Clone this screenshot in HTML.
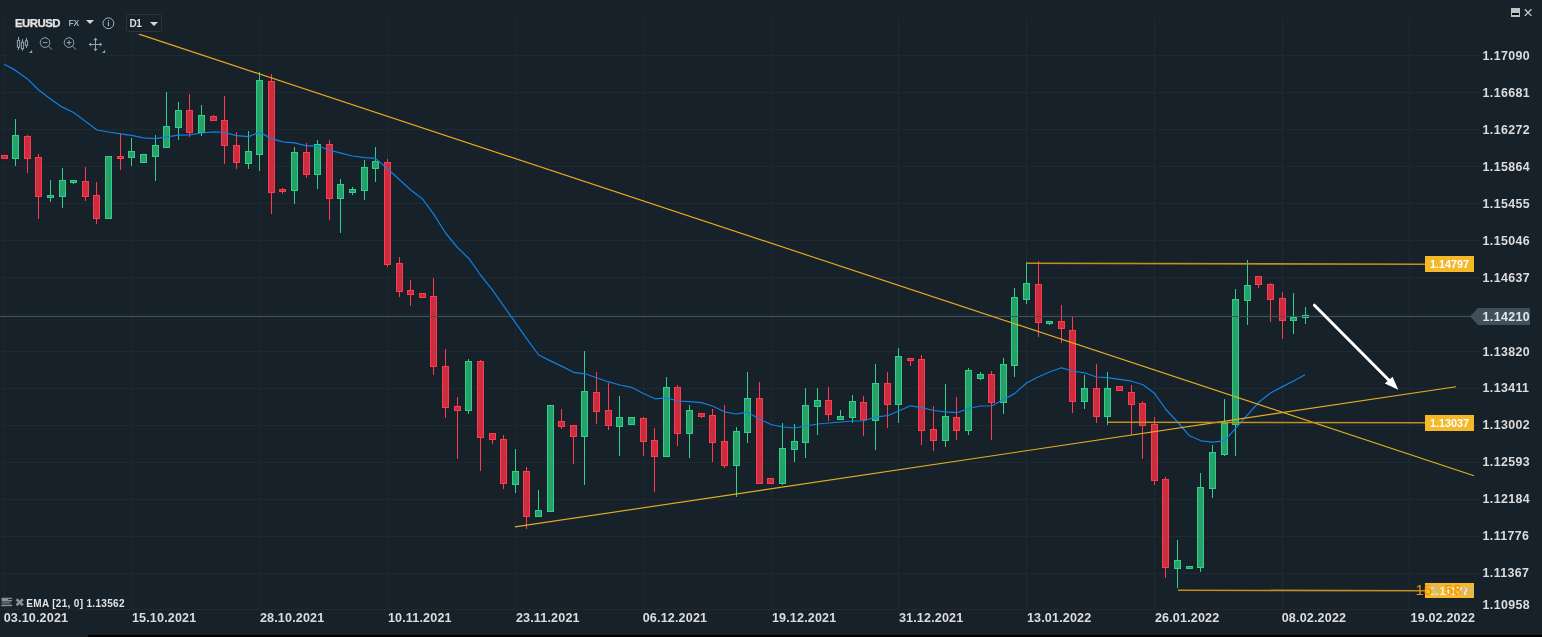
<!DOCTYPE html>
<html lang="en"><head><meta charset="utf-8"><title>EURUSD D1</title>
<style>
html,body{margin:0;padding:0;background:#172129;}
body{width:1542px;height:637px;overflow:hidden;position:relative;font-family:"Liberation Sans",sans-serif;}
#wrap{position:absolute;left:0;top:0;width:1542px;height:637px;background:#172129;overflow:hidden;}
#chart{position:absolute;left:0;top:0;}
.t{position:absolute;white-space:nowrap;line-height:1;}
.yl{left:1482.5px;font-size:12.4px;font-weight:bold;color:#dcdcdc;letter-spacing:.4px;}
.dl{top:612px;font-size:12.6px;font-weight:bold;color:#dcdcdc;letter-spacing:.15px;}
.pl{left:1425px;width:49px;text-align:center;font-size:10.8px;font-weight:bold;color:#fff;}
#toolbar{position:absolute;left:8px;top:10px;width:158px;height:24px;background:rgba(23,33,41,0.9);}
#toolbar2{position:absolute;left:8px;top:33px;width:98px;height:23px;background:rgba(23,33,41,0.9);}
</style></head><body><div id="wrap">

<svg id="chart" width="1542" height="637" viewBox="0 0 1542 637">
<g shape-rendering="crispEdges" fill="#20292f">
<rect x="4" y="19" width="1" height="591"/>
<rect x="131" y="19" width="1" height="591"/>
<rect x="259" y="19" width="1" height="591"/>
<rect x="387" y="19" width="1" height="591"/>
<rect x="515" y="19" width="1" height="591"/>
<rect x="643" y="19" width="1" height="591"/>
<rect x="771" y="19" width="1" height="591"/>
<rect x="898" y="19" width="1" height="591"/>
<rect x="1026" y="19" width="1" height="591"/>
<rect x="1154" y="19" width="1" height="591"/>
<rect x="1282" y="19" width="1" height="591"/>
<rect x="1409" y="19" width="1" height="591"/>
<rect x="0" y="55" width="1480" height="1"/>
<rect x="0" y="92" width="1480" height="1"/>
<rect x="0" y="129" width="1480" height="1"/>
<rect x="0" y="166" width="1480" height="1"/>
<rect x="0" y="203" width="1480" height="1"/>
<rect x="0" y="240" width="1480" height="1"/>
<rect x="0" y="277" width="1480" height="1"/>
<rect x="0" y="314" width="1480" height="1"/>
<rect x="0" y="351" width="1480" height="1"/>
<rect x="0" y="388" width="1480" height="1"/>
<rect x="0" y="425" width="1480" height="1"/>
<rect x="0" y="462" width="1480" height="1"/>
<rect x="0" y="499" width="1480" height="1"/>
<rect x="0" y="536" width="1480" height="1"/>
<rect x="0" y="573" width="1480" height="1"/>
<rect x="0" y="609" width="1474" height="1"/>
</g>
<g shape-rendering="crispEdges">
<rect x="4" y="155" width="1" height="4" fill="#ff3b4d"/>
<rect x="1" y="155" width="7" height="4" fill="#ff3b4d"/>
<rect x="2" y="156" width="5" height="2" fill="#cb2d3e"/>
<rect x="15" y="119" width="1" height="47" fill="#2ecf8a"/>
<rect x="12" y="135" width="7" height="24" fill="#2ecf8a"/>
<rect x="13" y="136" width="5" height="22" fill="#26a269"/>
<rect x="27" y="135" width="1" height="38" fill="#ff3b4d"/>
<rect x="24" y="136" width="7" height="23" fill="#ff3b4d"/>
<rect x="25" y="137" width="5" height="21" fill="#cb2d3e"/>
<rect x="38" y="154" width="1" height="65" fill="#ff3b4d"/>
<rect x="35" y="157" width="7" height="40" fill="#ff3b4d"/>
<rect x="36" y="158" width="5" height="38" fill="#cb2d3e"/>
<rect x="50" y="180" width="1" height="22" fill="#2ecf8a"/>
<rect x="47" y="195" width="7" height="3" fill="#2ecf8a"/>
<rect x="48" y="196" width="5" height="1" fill="#26a269"/>
<rect x="62" y="168" width="1" height="40" fill="#2ecf8a"/>
<rect x="59" y="180" width="7" height="17" fill="#2ecf8a"/>
<rect x="60" y="181" width="5" height="15" fill="#26a269"/>
<rect x="73" y="180" width="1" height="4" fill="#2ecf8a"/>
<rect x="70" y="180" width="7" height="3" fill="#2ecf8a"/>
<rect x="71" y="181" width="5" height="1" fill="#26a269"/>
<rect x="85" y="167" width="1" height="34" fill="#ff3b4d"/>
<rect x="82" y="181" width="7" height="16" fill="#ff3b4d"/>
<rect x="83" y="182" width="5" height="14" fill="#cb2d3e"/>
<rect x="96" y="182" width="1" height="42" fill="#ff3b4d"/>
<rect x="93" y="195" width="7" height="24" fill="#ff3b4d"/>
<rect x="94" y="196" width="5" height="22" fill="#cb2d3e"/>
<rect x="108" y="156" width="1" height="63" fill="#2ecf8a"/>
<rect x="105" y="156" width="7" height="63" fill="#2ecf8a"/>
<rect x="106" y="157" width="5" height="61" fill="#26a269"/>
<rect x="120" y="133" width="1" height="37" fill="#ff3b4d"/>
<rect x="117" y="156" width="7" height="3" fill="#ff3b4d"/>
<rect x="118" y="157" width="5" height="1" fill="#cb2d3e"/>
<rect x="131" y="138" width="1" height="28" fill="#2ecf8a"/>
<rect x="128" y="151" width="7" height="7" fill="#2ecf8a"/>
<rect x="129" y="152" width="5" height="5" fill="#26a269"/>
<rect x="143" y="154" width="1" height="9" fill="#2ecf8a"/>
<rect x="140" y="154" width="7" height="9" fill="#2ecf8a"/>
<rect x="141" y="155" width="5" height="7" fill="#26a269"/>
<rect x="155" y="135" width="1" height="46" fill="#2ecf8a"/>
<rect x="152" y="145" width="7" height="12" fill="#2ecf8a"/>
<rect x="153" y="146" width="5" height="10" fill="#26a269"/>
<rect x="166" y="92" width="1" height="56" fill="#2ecf8a"/>
<rect x="163" y="126" width="7" height="22" fill="#2ecf8a"/>
<rect x="164" y="127" width="5" height="20" fill="#26a269"/>
<rect x="178" y="102" width="1" height="38" fill="#2ecf8a"/>
<rect x="175" y="110" width="7" height="18" fill="#2ecf8a"/>
<rect x="176" y="111" width="5" height="16" fill="#26a269"/>
<rect x="189" y="94" width="1" height="43" fill="#ff3b4d"/>
<rect x="186" y="110" width="7" height="23" fill="#ff3b4d"/>
<rect x="187" y="111" width="5" height="21" fill="#cb2d3e"/>
<rect x="201" y="105" width="1" height="31" fill="#2ecf8a"/>
<rect x="198" y="115" width="7" height="18" fill="#2ecf8a"/>
<rect x="199" y="116" width="5" height="16" fill="#26a269"/>
<rect x="213" y="115" width="1" height="6" fill="#ff3b4d"/>
<rect x="210" y="116" width="7" height="5" fill="#ff3b4d"/>
<rect x="211" y="117" width="5" height="3" fill="#cb2d3e"/>
<rect x="224" y="96" width="1" height="68" fill="#ff3b4d"/>
<rect x="221" y="120" width="7" height="26" fill="#ff3b4d"/>
<rect x="222" y="121" width="5" height="24" fill="#cb2d3e"/>
<rect x="236" y="132" width="1" height="37" fill="#ff3b4d"/>
<rect x="233" y="145" width="7" height="18" fill="#ff3b4d"/>
<rect x="234" y="146" width="5" height="16" fill="#cb2d3e"/>
<rect x="248" y="131" width="1" height="38" fill="#2ecf8a"/>
<rect x="245" y="151" width="7" height="13" fill="#2ecf8a"/>
<rect x="246" y="152" width="5" height="11" fill="#26a269"/>
<rect x="259" y="72" width="1" height="99" fill="#2ecf8a"/>
<rect x="256" y="80" width="7" height="75" fill="#2ecf8a"/>
<rect x="257" y="81" width="5" height="73" fill="#26a269"/>
<rect x="271" y="74" width="1" height="140" fill="#ff3b4d"/>
<rect x="268" y="81" width="7" height="112" fill="#ff3b4d"/>
<rect x="269" y="82" width="5" height="110" fill="#cb2d3e"/>
<rect x="282" y="188" width="1" height="6" fill="#ff3b4d"/>
<rect x="279" y="189" width="7" height="3" fill="#ff3b4d"/>
<rect x="280" y="190" width="5" height="1" fill="#cb2d3e"/>
<rect x="294" y="147" width="1" height="57" fill="#2ecf8a"/>
<rect x="291" y="152" width="7" height="39" fill="#2ecf8a"/>
<rect x="292" y="153" width="5" height="37" fill="#26a269"/>
<rect x="306" y="143" width="1" height="35" fill="#ff3b4d"/>
<rect x="303" y="152" width="7" height="23" fill="#ff3b4d"/>
<rect x="304" y="153" width="5" height="21" fill="#cb2d3e"/>
<rect x="317" y="140" width="1" height="49" fill="#2ecf8a"/>
<rect x="314" y="144" width="7" height="31" fill="#2ecf8a"/>
<rect x="315" y="145" width="5" height="29" fill="#26a269"/>
<rect x="329" y="140" width="1" height="80" fill="#ff3b4d"/>
<rect x="326" y="144" width="7" height="55" fill="#ff3b4d"/>
<rect x="327" y="145" width="5" height="53" fill="#cb2d3e"/>
<rect x="340" y="179" width="1" height="54" fill="#2ecf8a"/>
<rect x="337" y="184" width="7" height="15" fill="#2ecf8a"/>
<rect x="338" y="185" width="5" height="13" fill="#26a269"/>
<rect x="352" y="187" width="1" height="8" fill="#2ecf8a"/>
<rect x="349" y="189" width="7" height="4" fill="#2ecf8a"/>
<rect x="350" y="190" width="5" height="2" fill="#26a269"/>
<rect x="364" y="160" width="1" height="40" fill="#2ecf8a"/>
<rect x="361" y="167" width="7" height="24" fill="#2ecf8a"/>
<rect x="362" y="168" width="5" height="22" fill="#26a269"/>
<rect x="375" y="147" width="1" height="35" fill="#2ecf8a"/>
<rect x="372" y="161" width="7" height="8" fill="#2ecf8a"/>
<rect x="373" y="162" width="5" height="6" fill="#26a269"/>
<rect x="387" y="159" width="1" height="108" fill="#ff3b4d"/>
<rect x="384" y="162" width="7" height="103" fill="#ff3b4d"/>
<rect x="385" y="163" width="5" height="101" fill="#cb2d3e"/>
<rect x="399" y="257" width="1" height="40" fill="#ff3b4d"/>
<rect x="396" y="263" width="7" height="29" fill="#ff3b4d"/>
<rect x="397" y="264" width="5" height="27" fill="#cb2d3e"/>
<rect x="410" y="280" width="1" height="26" fill="#ff3b4d"/>
<rect x="407" y="290" width="7" height="5" fill="#ff3b4d"/>
<rect x="408" y="291" width="5" height="3" fill="#cb2d3e"/>
<rect x="422" y="293" width="1" height="5" fill="#ff3b4d"/>
<rect x="419" y="293" width="7" height="5" fill="#ff3b4d"/>
<rect x="420" y="294" width="5" height="3" fill="#cb2d3e"/>
<rect x="433" y="278" width="1" height="97" fill="#ff3b4d"/>
<rect x="430" y="296" width="7" height="71" fill="#ff3b4d"/>
<rect x="431" y="297" width="5" height="69" fill="#cb2d3e"/>
<rect x="445" y="349" width="1" height="69" fill="#ff3b4d"/>
<rect x="442" y="366" width="7" height="42" fill="#ff3b4d"/>
<rect x="443" y="367" width="5" height="40" fill="#cb2d3e"/>
<rect x="457" y="397" width="1" height="62" fill="#ff3b4d"/>
<rect x="454" y="406" width="7" height="5" fill="#ff3b4d"/>
<rect x="455" y="407" width="5" height="3" fill="#cb2d3e"/>
<rect x="468" y="359" width="1" height="55" fill="#2ecf8a"/>
<rect x="465" y="361" width="7" height="50" fill="#2ecf8a"/>
<rect x="466" y="362" width="5" height="48" fill="#26a269"/>
<rect x="480" y="360" width="1" height="111" fill="#ff3b4d"/>
<rect x="477" y="361" width="7" height="77" fill="#ff3b4d"/>
<rect x="478" y="362" width="5" height="75" fill="#cb2d3e"/>
<rect x="492" y="433" width="1" height="11" fill="#ff3b4d"/>
<rect x="489" y="433" width="7" height="7" fill="#ff3b4d"/>
<rect x="490" y="434" width="5" height="5" fill="#cb2d3e"/>
<rect x="503" y="435" width="1" height="54" fill="#ff3b4d"/>
<rect x="500" y="439" width="7" height="45" fill="#ff3b4d"/>
<rect x="501" y="440" width="5" height="43" fill="#cb2d3e"/>
<rect x="515" y="449" width="1" height="44" fill="#2ecf8a"/>
<rect x="512" y="471" width="7" height="14" fill="#2ecf8a"/>
<rect x="513" y="472" width="5" height="12" fill="#26a269"/>
<rect x="526" y="467" width="1" height="62" fill="#ff3b4d"/>
<rect x="523" y="471" width="7" height="46" fill="#ff3b4d"/>
<rect x="524" y="472" width="5" height="44" fill="#cb2d3e"/>
<rect x="538" y="490" width="1" height="27" fill="#2ecf8a"/>
<rect x="535" y="510" width="7" height="7" fill="#2ecf8a"/>
<rect x="536" y="511" width="5" height="5" fill="#26a269"/>
<rect x="550" y="405" width="1" height="107" fill="#2ecf8a"/>
<rect x="547" y="405" width="7" height="107" fill="#2ecf8a"/>
<rect x="548" y="406" width="5" height="105" fill="#26a269"/>
<rect x="561" y="409" width="1" height="20" fill="#ff3b4d"/>
<rect x="558" y="421" width="7" height="6" fill="#ff3b4d"/>
<rect x="559" y="422" width="5" height="4" fill="#cb2d3e"/>
<rect x="573" y="425" width="1" height="39" fill="#ff3b4d"/>
<rect x="570" y="425" width="7" height="12" fill="#ff3b4d"/>
<rect x="571" y="426" width="5" height="10" fill="#cb2d3e"/>
<rect x="584" y="351" width="1" height="134" fill="#2ecf8a"/>
<rect x="581" y="391" width="7" height="46" fill="#2ecf8a"/>
<rect x="582" y="392" width="5" height="44" fill="#26a269"/>
<rect x="596" y="372" width="1" height="52" fill="#ff3b4d"/>
<rect x="593" y="392" width="7" height="20" fill="#ff3b4d"/>
<rect x="594" y="393" width="5" height="18" fill="#cb2d3e"/>
<rect x="608" y="383" width="1" height="47" fill="#ff3b4d"/>
<rect x="605" y="410" width="7" height="16" fill="#ff3b4d"/>
<rect x="606" y="411" width="5" height="14" fill="#cb2d3e"/>
<rect x="619" y="396" width="1" height="60" fill="#2ecf8a"/>
<rect x="616" y="417" width="7" height="10" fill="#2ecf8a"/>
<rect x="617" y="418" width="5" height="8" fill="#26a269"/>
<rect x="631" y="417" width="1" height="8" fill="#2ecf8a"/>
<rect x="628" y="417" width="7" height="8" fill="#2ecf8a"/>
<rect x="629" y="418" width="5" height="6" fill="#26a269"/>
<rect x="643" y="417" width="1" height="39" fill="#ff3b4d"/>
<rect x="640" y="418" width="7" height="24" fill="#ff3b4d"/>
<rect x="641" y="419" width="5" height="22" fill="#cb2d3e"/>
<rect x="654" y="428" width="1" height="64" fill="#ff3b4d"/>
<rect x="651" y="440" width="7" height="17" fill="#ff3b4d"/>
<rect x="652" y="441" width="5" height="15" fill="#cb2d3e"/>
<rect x="666" y="377" width="1" height="80" fill="#2ecf8a"/>
<rect x="663" y="387" width="7" height="70" fill="#2ecf8a"/>
<rect x="664" y="388" width="5" height="68" fill="#26a269"/>
<rect x="677" y="385" width="1" height="61" fill="#ff3b4d"/>
<rect x="674" y="387" width="7" height="47" fill="#ff3b4d"/>
<rect x="675" y="388" width="5" height="45" fill="#cb2d3e"/>
<rect x="689" y="405" width="1" height="53" fill="#2ecf8a"/>
<rect x="686" y="410" width="7" height="24" fill="#2ecf8a"/>
<rect x="687" y="411" width="5" height="22" fill="#26a269"/>
<rect x="701" y="413" width="1" height="5" fill="#ff3b4d"/>
<rect x="698" y="413" width="7" height="4" fill="#ff3b4d"/>
<rect x="699" y="414" width="5" height="2" fill="#cb2d3e"/>
<rect x="712" y="409" width="1" height="53" fill="#ff3b4d"/>
<rect x="709" y="415" width="7" height="28" fill="#ff3b4d"/>
<rect x="710" y="416" width="5" height="26" fill="#cb2d3e"/>
<rect x="724" y="405" width="1" height="63" fill="#ff3b4d"/>
<rect x="721" y="441" width="7" height="25" fill="#ff3b4d"/>
<rect x="722" y="442" width="5" height="23" fill="#cb2d3e"/>
<rect x="736" y="427" width="1" height="70" fill="#2ecf8a"/>
<rect x="733" y="431" width="7" height="35" fill="#2ecf8a"/>
<rect x="734" y="432" width="5" height="33" fill="#26a269"/>
<rect x="747" y="372" width="1" height="71" fill="#2ecf8a"/>
<rect x="744" y="398" width="7" height="35" fill="#2ecf8a"/>
<rect x="745" y="399" width="5" height="33" fill="#26a269"/>
<rect x="759" y="382" width="1" height="102" fill="#ff3b4d"/>
<rect x="756" y="398" width="7" height="86" fill="#ff3b4d"/>
<rect x="757" y="399" width="5" height="84" fill="#cb2d3e"/>
<rect x="770" y="478" width="1" height="6" fill="#ff3b4d"/>
<rect x="767" y="478" width="7" height="6" fill="#ff3b4d"/>
<rect x="768" y="479" width="5" height="4" fill="#cb2d3e"/>
<rect x="782" y="423" width="1" height="62" fill="#2ecf8a"/>
<rect x="779" y="448" width="7" height="36" fill="#2ecf8a"/>
<rect x="780" y="449" width="5" height="34" fill="#26a269"/>
<rect x="794" y="424" width="1" height="38" fill="#2ecf8a"/>
<rect x="791" y="441" width="7" height="9" fill="#2ecf8a"/>
<rect x="792" y="442" width="5" height="7" fill="#26a269"/>
<rect x="805" y="388" width="1" height="70" fill="#2ecf8a"/>
<rect x="802" y="405" width="7" height="38" fill="#2ecf8a"/>
<rect x="803" y="406" width="5" height="36" fill="#26a269"/>
<rect x="817" y="388" width="1" height="47" fill="#2ecf8a"/>
<rect x="814" y="400" width="7" height="7" fill="#2ecf8a"/>
<rect x="815" y="401" width="5" height="5" fill="#26a269"/>
<rect x="828" y="387" width="1" height="34" fill="#ff3b4d"/>
<rect x="825" y="400" width="7" height="15" fill="#ff3b4d"/>
<rect x="826" y="401" width="5" height="13" fill="#cb2d3e"/>
<rect x="840" y="410" width="1" height="10" fill="#2ecf8a"/>
<rect x="837" y="416" width="7" height="4" fill="#2ecf8a"/>
<rect x="838" y="417" width="5" height="2" fill="#26a269"/>
<rect x="852" y="395" width="1" height="28" fill="#2ecf8a"/>
<rect x="849" y="401" width="7" height="17" fill="#2ecf8a"/>
<rect x="850" y="402" width="5" height="15" fill="#26a269"/>
<rect x="863" y="396" width="1" height="40" fill="#ff3b4d"/>
<rect x="860" y="402" width="7" height="18" fill="#ff3b4d"/>
<rect x="861" y="403" width="5" height="16" fill="#cb2d3e"/>
<rect x="875" y="364" width="1" height="86" fill="#2ecf8a"/>
<rect x="872" y="383" width="7" height="38" fill="#2ecf8a"/>
<rect x="873" y="384" width="5" height="36" fill="#26a269"/>
<rect x="887" y="372" width="1" height="56" fill="#ff3b4d"/>
<rect x="884" y="383" width="7" height="22" fill="#ff3b4d"/>
<rect x="885" y="384" width="5" height="20" fill="#cb2d3e"/>
<rect x="898" y="348" width="1" height="75" fill="#2ecf8a"/>
<rect x="895" y="356" width="7" height="49" fill="#2ecf8a"/>
<rect x="896" y="357" width="5" height="47" fill="#26a269"/>
<rect x="910" y="358" width="1" height="8" fill="#ff3b4d"/>
<rect x="907" y="358" width="7" height="3" fill="#ff3b4d"/>
<rect x="908" y="359" width="5" height="1" fill="#cb2d3e"/>
<rect x="921" y="355" width="1" height="90" fill="#ff3b4d"/>
<rect x="918" y="359" width="7" height="72" fill="#ff3b4d"/>
<rect x="919" y="360" width="5" height="70" fill="#cb2d3e"/>
<rect x="933" y="406" width="1" height="45" fill="#ff3b4d"/>
<rect x="930" y="429" width="7" height="12" fill="#ff3b4d"/>
<rect x="931" y="430" width="5" height="10" fill="#cb2d3e"/>
<rect x="945" y="384" width="1" height="63" fill="#2ecf8a"/>
<rect x="942" y="416" width="7" height="25" fill="#2ecf8a"/>
<rect x="943" y="417" width="5" height="23" fill="#26a269"/>
<rect x="956" y="397" width="1" height="43" fill="#ff3b4d"/>
<rect x="953" y="417" width="7" height="14" fill="#ff3b4d"/>
<rect x="954" y="418" width="5" height="12" fill="#cb2d3e"/>
<rect x="968" y="368" width="1" height="67" fill="#2ecf8a"/>
<rect x="965" y="370" width="7" height="61" fill="#2ecf8a"/>
<rect x="966" y="371" width="5" height="59" fill="#26a269"/>
<rect x="980" y="372" width="1" height="8" fill="#2ecf8a"/>
<rect x="977" y="374" width="7" height="5" fill="#2ecf8a"/>
<rect x="978" y="375" width="5" height="3" fill="#26a269"/>
<rect x="991" y="371" width="1" height="69" fill="#ff3b4d"/>
<rect x="988" y="374" width="7" height="29" fill="#ff3b4d"/>
<rect x="989" y="375" width="5" height="27" fill="#cb2d3e"/>
<rect x="1003" y="358" width="1" height="56" fill="#2ecf8a"/>
<rect x="1000" y="364" width="7" height="39" fill="#2ecf8a"/>
<rect x="1001" y="365" width="5" height="37" fill="#26a269"/>
<rect x="1014" y="288" width="1" height="89" fill="#2ecf8a"/>
<rect x="1011" y="297" width="7" height="69" fill="#2ecf8a"/>
<rect x="1012" y="298" width="5" height="67" fill="#26a269"/>
<rect x="1026" y="262" width="1" height="42" fill="#2ecf8a"/>
<rect x="1023" y="283" width="7" height="17" fill="#2ecf8a"/>
<rect x="1024" y="284" width="5" height="15" fill="#26a269"/>
<rect x="1038" y="261" width="1" height="76" fill="#ff3b4d"/>
<rect x="1035" y="284" width="7" height="39" fill="#ff3b4d"/>
<rect x="1036" y="285" width="5" height="37" fill="#cb2d3e"/>
<rect x="1049" y="321" width="1" height="4" fill="#2ecf8a"/>
<rect x="1046" y="321" width="7" height="3" fill="#2ecf8a"/>
<rect x="1047" y="322" width="5" height="1" fill="#26a269"/>
<rect x="1061" y="305" width="1" height="38" fill="#ff3b4d"/>
<rect x="1058" y="321" width="7" height="8" fill="#ff3b4d"/>
<rect x="1059" y="322" width="5" height="6" fill="#cb2d3e"/>
<rect x="1072" y="317" width="1" height="96" fill="#ff3b4d"/>
<rect x="1069" y="330" width="7" height="72" fill="#ff3b4d"/>
<rect x="1070" y="331" width="5" height="70" fill="#cb2d3e"/>
<rect x="1084" y="375" width="1" height="34" fill="#2ecf8a"/>
<rect x="1081" y="388" width="7" height="14" fill="#2ecf8a"/>
<rect x="1082" y="389" width="5" height="12" fill="#26a269"/>
<rect x="1096" y="364" width="1" height="59" fill="#ff3b4d"/>
<rect x="1093" y="388" width="7" height="29" fill="#ff3b4d"/>
<rect x="1094" y="389" width="5" height="27" fill="#cb2d3e"/>
<rect x="1107" y="372" width="1" height="53" fill="#2ecf8a"/>
<rect x="1104" y="388" width="7" height="29" fill="#2ecf8a"/>
<rect x="1105" y="389" width="5" height="27" fill="#26a269"/>
<rect x="1119" y="386" width="1" height="5" fill="#ff3b4d"/>
<rect x="1116" y="386" width="7" height="5" fill="#ff3b4d"/>
<rect x="1117" y="387" width="5" height="3" fill="#cb2d3e"/>
<rect x="1131" y="385" width="1" height="50" fill="#ff3b4d"/>
<rect x="1128" y="392" width="7" height="13" fill="#ff3b4d"/>
<rect x="1129" y="393" width="5" height="11" fill="#cb2d3e"/>
<rect x="1142" y="401" width="1" height="58" fill="#ff3b4d"/>
<rect x="1139" y="403" width="7" height="23" fill="#ff3b4d"/>
<rect x="1140" y="404" width="5" height="21" fill="#cb2d3e"/>
<rect x="1154" y="417" width="1" height="68" fill="#ff3b4d"/>
<rect x="1151" y="424" width="7" height="57" fill="#ff3b4d"/>
<rect x="1152" y="425" width="5" height="55" fill="#cb2d3e"/>
<rect x="1165" y="477" width="1" height="101" fill="#ff3b4d"/>
<rect x="1162" y="479" width="7" height="89" fill="#ff3b4d"/>
<rect x="1163" y="480" width="5" height="87" fill="#cb2d3e"/>
<rect x="1177" y="540" width="1" height="48" fill="#2ecf8a"/>
<rect x="1174" y="560" width="7" height="9" fill="#2ecf8a"/>
<rect x="1175" y="561" width="5" height="7" fill="#26a269"/>
<rect x="1189" y="566" width="1" height="3" fill="#2ecf8a"/>
<rect x="1186" y="566" width="7" height="3" fill="#2ecf8a"/>
<rect x="1187" y="567" width="5" height="1" fill="#26a269"/>
<rect x="1200" y="473" width="1" height="99" fill="#2ecf8a"/>
<rect x="1197" y="487" width="7" height="81" fill="#2ecf8a"/>
<rect x="1198" y="488" width="5" height="79" fill="#26a269"/>
<rect x="1212" y="445" width="1" height="53" fill="#2ecf8a"/>
<rect x="1209" y="452" width="7" height="37" fill="#2ecf8a"/>
<rect x="1210" y="453" width="5" height="35" fill="#26a269"/>
<rect x="1224" y="399" width="1" height="57" fill="#2ecf8a"/>
<rect x="1221" y="423" width="7" height="32" fill="#2ecf8a"/>
<rect x="1222" y="424" width="5" height="30" fill="#26a269"/>
<rect x="1235" y="289" width="1" height="167" fill="#2ecf8a"/>
<rect x="1232" y="299" width="7" height="126" fill="#2ecf8a"/>
<rect x="1233" y="300" width="5" height="124" fill="#26a269"/>
<rect x="1247" y="260" width="1" height="65" fill="#2ecf8a"/>
<rect x="1244" y="285" width="7" height="16" fill="#2ecf8a"/>
<rect x="1245" y="286" width="5" height="14" fill="#26a269"/>
<rect x="1258" y="276" width="1" height="12" fill="#ff3b4d"/>
<rect x="1255" y="276" width="7" height="9" fill="#ff3b4d"/>
<rect x="1256" y="277" width="5" height="7" fill="#cb2d3e"/>
<rect x="1270" y="283" width="1" height="39" fill="#ff3b4d"/>
<rect x="1267" y="284" width="7" height="16" fill="#ff3b4d"/>
<rect x="1268" y="285" width="5" height="14" fill="#cb2d3e"/>
<rect x="1282" y="292" width="1" height="47" fill="#ff3b4d"/>
<rect x="1279" y="298" width="7" height="23" fill="#ff3b4d"/>
<rect x="1280" y="299" width="5" height="21" fill="#cb2d3e"/>
<rect x="1293" y="293" width="1" height="41" fill="#2ecf8a"/>
<rect x="1290" y="317" width="7" height="4" fill="#2ecf8a"/>
<rect x="1291" y="318" width="5" height="2" fill="#26a269"/>
<rect x="1305" y="307" width="1" height="17" fill="#2ecf8a"/>
<rect x="1302" y="315" width="7" height="3" fill="#2ecf8a"/>
<rect x="1303" y="316" width="5" height="1" fill="#26a269"/>
</g>
<rect x="0" y="316" width="1472" height="1" fill="#44545f" shape-rendering="crispEdges"/>
<polyline points="4.2,64.2 15.6,70.4 27.4,78.9 39.0,90.2 50.2,98.8 61.9,106.9 73.6,112.5 85.3,121.2 97.0,130.0 108.7,132.0 120.5,133.9 131.6,135.3 143.3,137.8 155.0,138.6 166.8,136.9 178.5,135.2 189.6,134.9 201.5,133.0 213.5,131.8 224.5,132.5 236.5,135.7 248.5,136.7 259.5,132.1 271.5,138.6 283.0,141.9 294.5,142.8 306.5,145.8 318.0,145.8 329.5,150.2 341.0,153.2 352.5,156.0 364.5,157.6 375.5,158.4 387.5,168.8 399.0,179.2 410.5,189.7 422.5,198.9 434.0,214.6 445.6,233.0 457.0,247.0 469.0,258.7 480.5,275.0 492.0,289.3 504.0,306.4 515.6,322.9 527.0,339.1 538.7,355.0 550.0,360.6 562.0,366.4 573.5,372.3 585.0,373.8 596.5,377.8 608.0,381.7 620.0,385.0 631.5,387.3 643.0,393.2 655.0,398.8 666.5,397.8 678.0,401.0 689.5,401.7 701.5,402.6 713.0,406.2 724.5,411.8 736.0,414.0 747.5,412.1 759.5,419.3 771.0,424.5 782.5,427.0 794.5,428.0 806.0,426.0 817.5,424.0 829.0,423.0 840.5,422.0 852.5,421.0 864.0,420.8 875.5,417.0 887.5,415.7 899.0,410.8 910.5,405.8 922.0,407.7 933.5,410.5 945.5,411.8 957.0,412.7 968.5,408.5 980.5,406.0 992.0,405.8 1003.5,399.5 1014.5,393.6 1026.5,383.0 1038.5,376.7 1049.5,372.0 1061.5,367.8 1072.5,371.0 1084.5,372.8 1096.5,377.0 1107.5,377.7 1119.5,379.3 1131.5,381.2 1143.0,384.8 1154.5,393.3 1166.0,409.5 1178.0,422.5 1189.5,435.8 1201.0,440.8 1212.5,442.1 1224.5,440.8 1236.0,427.8 1247.5,414.8 1259.0,402.0 1270.5,393.0 1282.0,386.9 1293.5,381.0 1305.0,374.8" fill="none" stroke="#1080e2" stroke-width="1.2" stroke-linejoin="round"/>
<line x1="95" y1="19.6" x2="140" y2="34.4" stroke="#e3ad23" stroke-width="1.4" opacity="0.3"/>
<line x1="139" y1="34.1" x2="1474" y2="475.7" stroke="#e3ad23" stroke-width="1.15"/>
<line x1="515" y1="526.9" x2="1456" y2="386.7" stroke="#e3ad23" stroke-width="1.15"/>
<line x1="1026" y1="263.3" x2="1426" y2="264.2" stroke="#bd901f" stroke-width="1.6"/>
<line x1="1108" y1="422.2" x2="1426" y2="422.8" stroke="#bd901f" stroke-width="1.6"/>
<line x1="1178" y1="590.2" x2="1426" y2="590.8" stroke="#bd901f" stroke-width="1.6"/>
<line x1="1314.4" y1="305.2" x2="1390" y2="381.3" stroke="#ffffff" stroke-width="3" stroke-linecap="round"/>
<polygon points="1398.3,389.7 1384.8,383.6 1392.6,376.8" fill="#ffffff"/>
<g shape-rendering="crispEdges">
<rect x="1425" y="256" width="49" height="16" fill="#f5b829"/>
<rect x="1425" y="415" width="49" height="16" fill="#f5b829"/>
<rect x="1425" y="583" width="49" height="15" fill="#f5b829"/>
</g>
<polygon points="1470,316.5 1478,308 1530,308 1530,325 1478,325" fill="#3f505c"/>
<rect x="88" y="635" width="1454" height="2" fill="#000" shape-rendering="crispEdges"/>
</svg>
<div class="t yl" style="top:50px">1.17090</div>
<div class="t yl" style="top:87px">1.16681</div>
<div class="t yl" style="top:124px">1.16272</div>
<div class="t yl" style="top:161px">1.15864</div>
<div class="t yl" style="top:198px">1.15455</div>
<div class="t yl" style="top:235px">1.15046</div>
<div class="t yl" style="top:272px">1.14637</div>
<div class="t yl" style="top:346px">1.13820</div>
<div class="t yl" style="top:382px">1.13411</div>
<div class="t yl" style="top:419px">1.13002</div>
<div class="t yl" style="top:456px">1.12593</div>
<div class="t yl" style="top:493px">1.12184</div>
<div class="t yl" style="top:530px">1.11776</div>
<div class="t yl" style="top:567px">1.11367</div>
<div class="t yl" style="top:599px">1.10958</div>
<div class="t yl" style="top:311px;color:#e4e4e4">1.14210</div>
<div class="t dl" style="left:3.7px">03.10.2021</div>
<div class="t dl" style="left:131.9px">15.10.2021</div>
<div class="t dl" style="left:259.9px">28.10.2021</div>
<div class="t dl" style="left:387.9px">10.11.2021</div>
<div class="t dl" style="left:515.9px">23.11.2021</div>
<div class="t dl" style="left:642.7px">06.12.2021</div>
<div class="t dl" style="left:771.9px">19.12.2021</div>
<div class="t dl" style="left:898.9px">31.12.2021</div>
<div class="t dl" style="left:1026.9px">13.01.2022</div>
<div class="t dl" style="left:1154.9px">26.01.2022</div>
<div class="t dl" style="left:1281.7px">08.02.2022</div>
<div class="t dl" style="left:1410.5px">19.02.2022</div>
<div class="t pl" style="top:259px">1.14797</div>
<div class="t pl" style="top:418px">1.13037</div>
<div class="t pl" style="top:586px;opacity:.8">1.11177</div>
<div class="t" style="left:1415.5px;top:581.5px;font-size:15px;color:#f28f0a">15<span style="color:#b9b9b4">h</span> 58<span style="color:#b9b9b4">m</span></div>
<div id="toolbar"></div><div id="toolbar2"></div>
<div class="t" style="left:15px;top:18px;font-size:11.4px;font-weight:bold;color:#e6e6e6;letter-spacing:-0.5px;-webkit-text-stroke:0.25px #e6e6e6">EURUSD</div>
<div class="t" style="left:68.5px;top:18.5px;font-size:8.6px;font-weight:bold;color:#9ab0bc;letter-spacing:-0.2px">FX</div>
<div style="position:absolute;left:126px;top:14px;width:34px;height:16px;border:1px solid #2a343c;border-radius:3px"></div>
<div class="t" style="left:129.6px;top:18.5px;font-size:10px;font-weight:bold;color:#dedede;letter-spacing:-0.6px">D1</div>
<svg style="position:absolute;left:0;top:0" width="180" height="60" viewBox="0 0 180 60">
<polygon points="86,20 94,20 90,24" fill="#d8d8d8"/>
<polygon points="150,22 158,22 154,26" fill="#d8d8d8"/>
<circle cx="108.4" cy="23.3" r="5.4" fill="none" stroke="#a0b8c4" stroke-width="1"/>
<rect x="107.9" y="22.2" width="1.1" height="4" fill="#a0b8c4"/><rect x="107.9" y="20.2" width="1.1" height="1.1" fill="#a0b8c4"/>
<g fill="none" stroke="#8fa5b1" stroke-width="1">
<path d="M18.5 37v3.3M18.5 47.2v2.6M22.5 39.2v3M22.5 48.6v2.2M26.5 37.8v3M26.5 45.4v2.6"/>
<rect x="17.4" y="40.4" width="2.2" height="6.8"/><rect x="21.4" y="42.2" width="2.2" height="6.4"/><rect x="25.4" y="40.8" width="2.2" height="4.6"/>
<circle cx="45" cy="42.6" r="4.8"/><path d="M48.6 46.2L52 49.7M42.7 42.6h4.7"/>
<circle cx="69" cy="42.6" r="4.8"/><path d="M72.6 46.2L76 49.7M66.7 42.6h4.7M69 40.3v4.7"/>
<path d="M95.5 38.5v12M89.5 44.5h12"/>
</g>
<g fill="#8fa5b1">
<polygon points="95.5,37.6 93.4,40.2 97.6,40.2"/><polygon points="95.5,51.4 93.4,48.8 97.6,48.8"/>
<polygon points="88.6,44.5 91.2,42.4 91.2,46.6"/><polygon points="102.4,44.5 99.8,42.4 99.8,46.6"/>
<polygon points="32.2,49.8 32.2,53 29,53"/><polygon points="105.2,49.8 105.2,53 102,53"/>
</g>
</svg>
<svg style="position:absolute;left:1505px;top:0" width="37" height="24" viewBox="1505 0 37 24">
<rect x="1511" y="8" width="9" height="9" fill="#bcc1c4" shape-rendering="crispEdges"/>
<rect x="1512" y="13" width="7" height="2" fill="#05090c" shape-rendering="crispEdges"/>
<path d="M1524.8 9.3l6.6 6.6M1531.4 9.3l-6.6 6.6" stroke="#c8ccce" stroke-width="1.3" fill="none"/>
</svg>
<svg style="position:absolute;left:0;top:595px" width="30" height="14" viewBox="0 595 30 14">
<g fill="#8a8f92"><rect x="1.5" y="597.8" width="10.6" height="3.6" rx="0.6"/><rect x="8.2" y="599" width="3.9" height="1" fill="#172129"/>
<rect x="1.5" y="602.4" width="9" height="1.1"/><rect x="1.2" y="604.6" width="11" height="1.6"/></g>
<path d="M16.5 599.2l6.4 6M22.9 599.2l-6.4 6" stroke="#8a8f92" stroke-width="2.6" fill="none"/>
</svg>
<div class="t" style="left:26.3px;top:599.0px;font-size:10px;font-weight:bold;color:#e2e2e2;letter-spacing:0.32px">EMA [21, 0] 1.13562</div>
</div></body></html>
